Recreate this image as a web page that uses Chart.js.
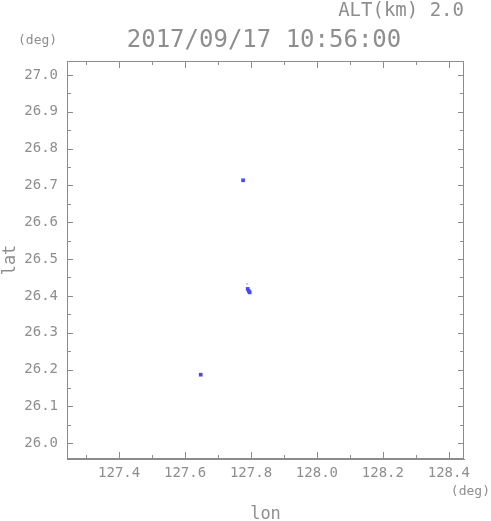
<!DOCTYPE html>
<html>
<head>
<meta charset="utf-8">
<script src="https://cdn.jsdelivr.net/npm/chart.js@4/dist/chart.umd.min.js"></script>
<style>
  html, body { margin: 0; padding: 0; background: #fff; }
</style>
</head>
<body>
<canvas id="radar-alt" width="491" height="521"></canvas>
<script>
// echo positions (lon, lat)
const lonPts = [127.776, 127.790, 127.793, 127.796, 127.6475];
const latPts = [26.714, 26.419, 26.4135, 26.4095, 26.186];
const lonFaint = [127.788];
const latFaint = [26.4325];

const lonRange = [127.242, 128.446];
const latRange = [25.957, 27.038];
const lonTicks = [127.4, 127.6, 127.8, 128.0, 128.2, 128.4];
const lonMinor = [127.3, 127.5, 127.7, 127.9, 128.1, 128.3];
const latTicks = [26.0, 26.1, 26.2, 26.3, 26.4, 26.5, 26.6, 26.7, 26.8, 26.9, 27.0];
const latMinor = [26.05, 26.15, 26.25, 26.35, 26.45, 26.55, 26.65, 26.75, 26.85, 26.95];

const altText = 'ALT(km) 2.0';
const timeText = '2017/09/17 10:56:00';
const unitText = '(deg)';

const txtColor = '#8e8e8e';
const lineColor = '#8c8c8c';
const mono = "'DejaVu Sans Mono', monospace";

const framePlugin = {
    id: 'frame',
    afterDraw(chart) {
        const c = chart.ctx;
        const a = chart.chartArea;
        const xs = chart.scales.x, ys = chart.scales.y;
        c.save();
        c.strokeStyle = lineColor;
        c.lineWidth = 1;
        c.strokeRect(a.left + 0.5, a.top + 0.5, a.right - a.left - 1, a.bottom - a.top - 1);
        c.beginPath();
        const tick = (vals, len) => {
            vals.forEach(v => {
                const px = Math.round(xs.getPixelForValue(v)) + 0.5;
                c.moveTo(px, a.bottom); c.lineTo(px, a.bottom - len);
                c.moveTo(px, a.top); c.lineTo(px, a.top + len);
            });
        };
        const tickY = (vals, len) => {
            vals.forEach(v => {
                const py = Math.round(ys.getPixelForValue(v)) + 0.5;
                c.moveTo(a.left, py); c.lineTo(a.left + len, py);
                c.moveTo(a.right, py); c.lineTo(a.right - len, py);
            });
        };
        tick(lonTicks, 7);
        tick(lonMinor, 4);
        tickY(latTicks, 6);
        tickY(latMinor, 4);
        c.stroke();

        c.fillStyle = txtColor;
        c.textBaseline = 'middle';
        c.font = '19px ' + mono;
        c.textAlign = 'right';
        c.fillText(altText, 464, 11);
        c.font = '24px ' + mono;
        c.textAlign = 'center';
        c.fillText(timeText, 264, 41);
        c.font = '13px ' + mono;
        c.textAlign = 'left';
        c.fillText(unitText, 18, 41);
        c.textAlign = 'right';
        c.fillText(unitText, 490, 492);
        c.restore();
    }
};

const ctx = document.getElementById('radar-alt').getContext('2d');
const radarChart = new Chart(ctx, {
    type: 'scatter',
    data: {
        datasets: [{
            data: lonPts.map((x, i) => ({ x: x, y: latPts[i] })),
            backgroundColor: 'rgb(70, 70, 255)',
            borderWidth: 0,
            pointStyle: 'rect',
            pointRadius: 2.6,
            pointHoverRadius: 2.6
        }, {
            data: lonFaint.map((x, i) => ({ x: x, y: latFaint[i] })),
            backgroundColor: 'rgb(110, 110, 230)',
            borderWidth: 0,
            pointStyle: 'rect',
            pointRadius: 0.8
        }]
    },
    options: {
        responsive: false,
        animation: false,
        devicePixelRatio: 1,
        layout: { padding: { top: 61, right: 27, left: 0, bottom: 0 } },
        plugins: { legend: { display: false }, tooltip: { enabled: false } },
        scales: {
            x: {
                type: 'linear',
                position: 'bottom',
                min: lonRange[0],
                max: lonRange[1],
                afterBuildTicks: s => { s.ticks = lonTicks.map(v => ({ value: v })); },
                afterFit: s => { s.height = 62; },
                ticks: {
                    autoSkip: false,
                    maxRotation: 0,
                    padding: 6,
                    color: txtColor,
                    font: { family: mono, size: 14 },
                    callback: v => v.toFixed(1)
                },
                grid: { display: true, drawOnChartArea: false, drawTicks: false, color: lineColor },
                border: { display: true, color: lineColor },
                title: { display: true, text: 'lon', color: txtColor, font: { family: mono, size: 17 }, padding: { top: 0, bottom: -4 } }
            },
            y: {
                type: 'linear',
                min: latRange[0],
                max: latRange[1],
                afterBuildTicks: s => { s.ticks = latTicks.map(v => ({ value: v })); },
                afterFit: s => { s.width = 67; },
                ticks: {
                    autoSkip: false,
                    padding: 9,
                    color: txtColor,
                    font: { family: mono, size: 14 },
                    callback: v => v.toFixed(1)
                },
                grid: { display: true, drawOnChartArea: false, drawTicks: false, color: lineColor },
                border: { display: true, color: lineColor },
                title: { display: true, text: 'lat', color: txtColor, font: { family: mono, size: 17 }, padding: { top: 0, bottom: 0 } }
            }
        }
    },
    plugins: [framePlugin]
});
</script>
</body>
</html>
